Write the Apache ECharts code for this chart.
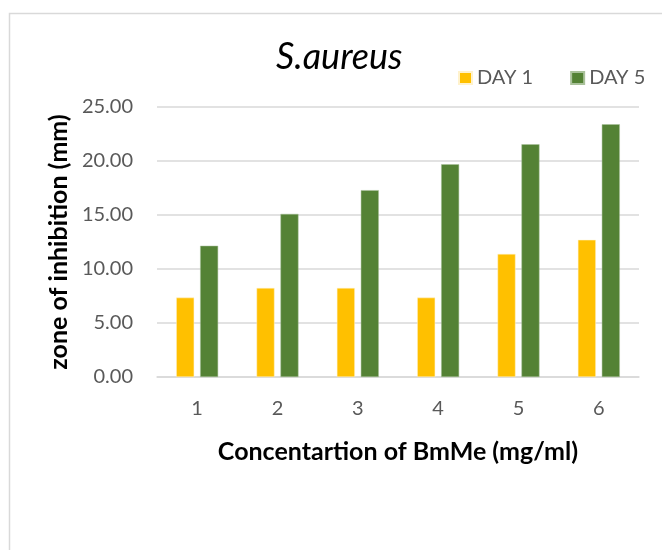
<!DOCTYPE html>
<html>
<head>
<meta charset="utf-8">
<script src="https://cdn.jsdelivr.net/npm/echarts@6/dist/echarts.min.js"></script>
<style>
  html, body { margin: 0; padding: 0; background: #fff; }
  #chart { width: 662px; height: 550px; }
</style>
</head>
<body>
<div id="chart"></div>
<script>
// concentration levels (x axis)
const categories = ["1", "2", "3", "4", "5", "6"];
// zone of inhibition (mm)
const day1 = [7.35, 8.25, 8.25, 7.35, 11.4, 12.7];
const day5 = [12.15, 15.1, 17.3, 19.7, 21.55, 23.4];

const chart = echarts.init(document.getElementById("chart"));
const font = "Lato";

const option = {
  animation: false,
  graphic: [
    {
      // outer chart frame
      type: "rect",
      left: 7,
      top: 11,
      shape: { width: 700, height: 600 },
      style: { fill: "none", stroke: "#d9d9d9", lineWidth: 1.5 },
    },
  ],
  title: {
    text: "S.aureus",
    left: 271,
    top: 34,
    textStyle: {
      fontFamily: font,
      fontStyle: "italic",
      fontWeight: "normal",
      fontSize: 36,
      color: "#000",
    },
  },
  legend: {
    left: 453,
    top: 63,
    icon: "rect",
    itemWidth: 13,
    itemHeight: 12,
    itemGap: 37,
    textStyle: { fontFamily: font, fontSize: 20, color: "#595959" },
    data: ["DAY 1", "DAY 5"],
  },
  grid: { left: 157, right: 23, top: 107, bottom: 173 },
  xAxis: {
    type: "category",
    data: categories,
    name: "Concentartion of BmMe (mg/ml)",
    nameLocation: "middle",
    nameGap: 62,
    nameTextStyle: { fontFamily: font, fontWeight: "bold", fontSize: 25, color: "#000" },
    axisLine: { lineStyle: { color: "#d9d9d9", width: 1.5 } },
    axisTick: { show: false },
    axisLabel: { margin: 22, fontFamily: font, fontSize: 20, color: "#595959" },
  },
  yAxis: {
    type: "value",
    min: 0,
    max: 25,
    interval: 5,
    name: "zone of inhibition (mm)",
    nameLocation: "middle",
    nameGap: 81,
    nameTextStyle: { fontFamily: font, fontWeight: "bold", fontSize: 25, color: "#000" },
    axisLabel: {
      margin: 24,
      fontFamily: font,
      fontSize: 20,
      color: "#595959",
      formatter: (v) => v.toFixed(2),
    },
    splitLine: { lineStyle: { color: "#d9d9d9", width: 1.5 } },
  },
  series: [
    {
      name: "DAY 1",
      type: "bar",
      data: day1,
      barWidth: 18,
      barGap: "33%",
      itemStyle: { color: "#ffc000", borderColor: "#fff2cc", borderWidth: 0.5 },
    },
    {
      name: "DAY 5",
      type: "bar",
      data: day5,
      barWidth: 18,
      itemStyle: { color: "#548235", borderColor: "#a9c19a", borderWidth: 0.5 },
    },
  ],
};

chart.setOption(option);
</script>
</body>
</html>
